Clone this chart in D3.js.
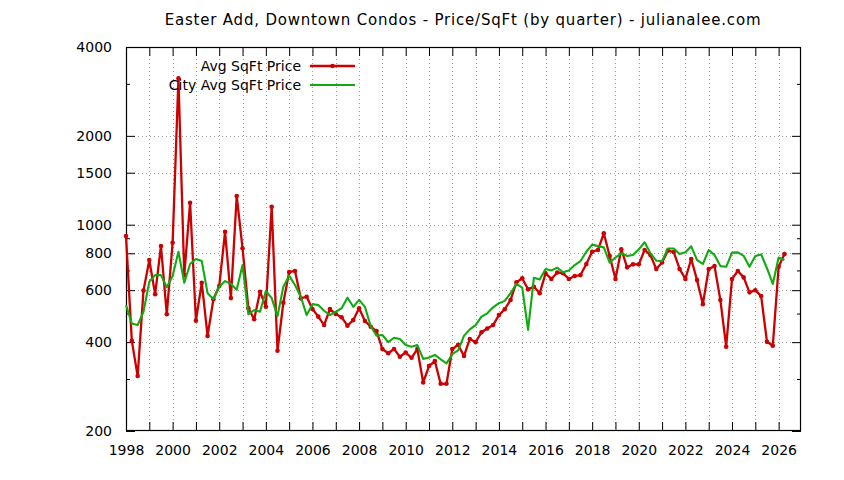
<!DOCTYPE html>
<html><head><meta charset="utf-8">
<script src="https://cdn.jsdelivr.net/npm/d3@7"></script>
<style>body{margin:0;background:#fff}svg{display:block}</style>
</head><body><svg id="c" width="844" height="480"></svg>
<script>
const title = "Easter Add, Downtown Condos - Price/SqFt (by quarter) - julianalee.com";
const seriesNames = ["Avg SqFt Price", "City Avg SqFt Price"];

// quarterly categories 1998 Q1 .. 2026 Q2
const quarters = [];
for (let yr = 1998; yr <= 2026; yr++) for (let q = 1; q <= 4; q++) if (quarters.length < 114) quarters.push(yr + "-Q" + q);

const avgSqFt = [
  915, 404, 307, 598, 759, 581, 847, 497, 869, 3132,
  675, 1187, 473, 636, 420, 559, 620, 946, 564, 1251,
  832, 521, 478, 593, 527, 1150, 374, 544, 691, 697,
  563, 570, 518, 488, 457, 518, 498, 486, 455, 475,
  521, 472, 451, 436, 379, 367, 379, 357, 369, 354,
  379, 292, 332, 345, 289, 289, 379, 392, 359, 410,
  400, 432, 445, 457, 494, 517, 556, 638, 658, 604,
  616, 586, 684, 655, 689, 685, 655, 670, 675, 736,
  810, 821, 935, 783, 655, 825, 717, 734, 734, 821,
  789, 708, 745, 817, 808, 708, 655, 765, 649, 538,
  708, 724, 556, 386, 655, 697, 663, 590, 600, 573,
  401, 389, 720, 795
];

const cityAvgSqFt = [
  534, 463, 457, 507, 641, 675, 675, 614, 670, 810,
  636, 736, 765, 753, 586, 560, 616, 644, 630, 602,
  730, 497, 514, 507, 596, 564, 490, 616, 672, 625,
  570, 494, 538, 534, 511, 494, 507, 521, 566, 527,
  556, 527, 453, 421, 423, 400, 414, 410, 391, 386,
  391, 351, 355, 362, 350, 339, 364, 375, 420, 442,
  457, 488, 501, 525, 542, 552, 586, 630, 612, 440,
  661, 652, 708, 700, 715, 690, 700, 730, 753, 810,
  856, 846, 838, 744, 774, 800, 783, 789, 825, 872,
  800, 755, 753, 831, 831, 795, 806, 845, 759, 736,
  821, 789, 724, 720, 804, 806, 784, 720, 783, 793,
  712, 630, 774, 759
];

const xTickYears = d3.range(1998, 2027);
const xLabelYears = [1998, 2000, 2002, 2004, 2006, 2008, 2010, 2012, 2014, 2016, 2018, 2020, 2022, 2024, 2026];
const yTicks = [200, 400, 600, 800, 1000, 1500, 2000, 4000];
const yMinorTicks = [300, 500, 700, 900, 3000];
const yGridTicks = [400, 600, 800, 1000, 1500, 2000];

const FONT = "DejaVu Sans, sans-serif";
const L = 126, R = 801, T = 47, B = 431;
const svg = d3.select("#c");

function qToYear(q) { const p = q.split("-Q"); return +p[0] + (+p[1] - 1) / 4; }

const x = d3.scaleLinear().domain([1998, 2026.96]).range([L, R]);
const y = d3.scaleLog().domain([200, 4000]).range([B, T]);

// grid
const grid = svg.append("g").attr("stroke", "#a0a0a0").attr("stroke-width", 1).attr("stroke-dasharray", "1,3");
grid.selectAll("line.v").data(xTickYears.filter(d => d > 1998)).join("line")
  .attr("x1", d => Math.round(x(d)) + 0.5).attr("x2", d => Math.round(x(d)) + 0.5)
  .attr("y1", T).attr("y2", B);
grid.selectAll("line.h").data(yGridTicks).join("line")
  .attr("x1", L).attr("x2", R)
  .attr("y1", d => Math.round(y(d)) + 0.5).attr("y2", d => Math.round(y(d)) + 0.5);

// axes
const fmtX = d => xLabelYears.includes(d) ? String(d) : "";
const axB = svg.append("g").attr("transform", `translate(0,${B})`)
  .call(d3.axisBottom(x).tickValues(xTickYears).tickFormat(fmtX).tickSizeInner(-9).tickSizeOuter(0).tickPadding(14));
const axT = svg.append("g").attr("transform", `translate(0,${T})`)
  .call(d3.axisTop(x).tickValues(xTickYears).tickFormat("").tickSizeInner(-9).tickSizeOuter(0));
const axL = svg.append("g").attr("transform", `translate(${L},0)`)
  .call(d3.axisLeft(y).tickValues(yTicks).tickFormat(d3.format("d")).tickSizeInner(-9).tickSizeOuter(0).tickPadding(14));
const axLm = svg.append("g").attr("transform", `translate(${L},0)`)
  .call(d3.axisLeft(y).tickValues(yMinorTicks).tickFormat("").tickSizeInner(-4).tickSizeOuter(0));
const axR = svg.append("g").attr("transform", `translate(${R},0)`)
  .call(d3.axisRight(y).tickValues(yTicks).tickFormat("").tickSizeInner(-9).tickSizeOuter(0));
const axRm = svg.append("g").attr("transform", `translate(${R},0)`)
  .call(d3.axisRight(y).tickValues(yMinorTicks).tickFormat("").tickSizeInner(-4).tickSizeOuter(0));
[axB, axT, axL, axLm, axR, axRm].forEach(a => {
  a.select(".domain").remove();
  a.selectAll(".tick line").attr("stroke", "#000").attr("stroke-width", 1);
  a.selectAll("text").attr("font-family", FONT).attr("font-size", 14).attr("fill", "#000");
});

// frame
svg.append("rect").attr("x", L + 0.5).attr("y", T + 0.5).attr("width", R - L - 1).attr("height", B - T - 1)
  .attr("fill", "none").attr("stroke", "#000").attr("stroke-width", 1.2);

// title
svg.append("text").attr("x", 463).attr("y", 25).attr("text-anchor", "middle")
  .attr("font-family", FONT).attr("font-size", 15).attr("letter-spacing", 0.8).text(title);

const RED = "#cc0000", GREEN = "#11aa11";
const line = d3.line().x(d => x(qToYear(d.q))).y(d => y(d.v));
const redData = quarters.map((q, i) => ({ q, v: avgSqFt[i] }));
const greenData = quarters.map((q, i) => ({ q, v: cityAvgSqFt[i] }));

svg.append("path").datum(redData).attr("d", line).attr("fill", "none")
  .attr("stroke", RED).attr("stroke-width", 2.3).attr("stroke-linejoin", "round");
svg.append("g").selectAll("circle").data(redData).join("circle")
  .attr("cx", d => x(qToYear(d.q))).attr("cy", d => y(d.v)).attr("r", 2.3).attr("fill", RED);
svg.append("path").datum(greenData).attr("d", line).attr("fill", "none")
  .attr("stroke", GREEN).attr("stroke-width", 2.1).attr("stroke-linejoin", "round");

// legend
const lg = svg.append("g");
lg.append("text").attr("x", 301).attr("y", 71).attr("text-anchor", "end")
  .attr("font-family", FONT).attr("font-size", 14).text(seriesNames[0]);
lg.append("line").attr("x1", 310).attr("x2", 355).attr("y1", 66).attr("y2", 66).attr("stroke", RED).attr("stroke-width", 2.3);
lg.append("circle").attr("cx", 332.5).attr("cy", 66).attr("r", 2.3).attr("fill", RED);
lg.append("text").attr("x", 301).attr("y", 90).attr("text-anchor", "end")
  .attr("font-family", FONT).attr("font-size", 14).text(seriesNames[1]);
lg.append("line").attr("x1", 310).attr("x2", 355).attr("y1", 85).attr("y2", 85).attr("stroke", GREEN).attr("stroke-width", 2.1);
</script></body></html>
